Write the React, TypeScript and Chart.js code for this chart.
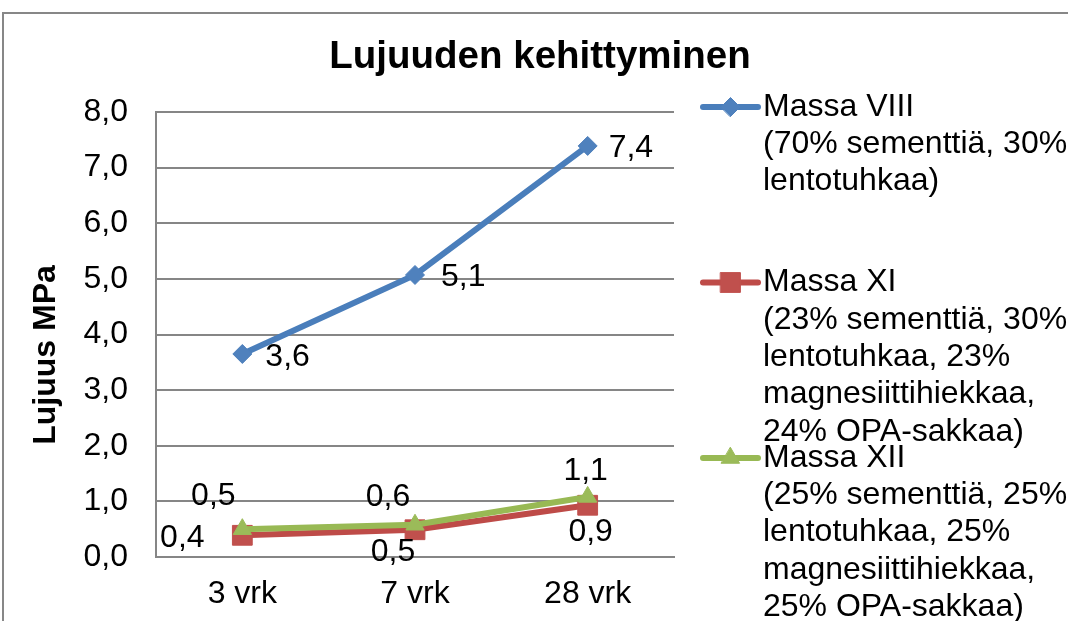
import React, { useEffect, useRef } from 'react';
import { Chart, registerables } from 'chart.js';
import { drawPoint } from 'chart.js/helpers';

Chart.register(...registerables);

// ---- data ----
const chartTitle = 'Lujuuden kehittyminen';
const yAxisTitle = 'Lujuus MPa';
const categories = ['3 vrk', '7 vrk', '28 vrk'];
const massaVIII = [3.65, 5.07, 7.39];
const massaXI = [0.39, 0.49, 0.93];
const massaXII = [0.5, 0.58, 1.08];
const seriesNames = ['Massa VIII', 'Massa XI', 'Massa XII'];
const legendTexts = [
  ['Massa VIII', '(70% sementtiä, 30%', 'lentotuhkaa)'],
  ['Massa XI', '(23% sementtiä, 30%', 'lentotuhkaa, 23%', 'magnesiittihiekkaa,', '24% OPA-sakkaa)'],
  ['Massa XII', '(25% sementtiä, 25%', 'lentotuhkaa, 25%', 'magnesiittihiekkaa,', '25% OPA-sakkaa)'],
];
const yMin = 0;
const yMax = 8;
const yStep = 1;

// ---- styles ----
const FONT = '"Liberation Sans", Arial, sans-serif';
const lineColors = ['#4A7EBB', '#BE4B48', '#98B954'];
const markerColors = ['#4F81BD', '#C0504D', '#9BBB59'];
const markerStyles = ['rectRot', 'rect', 'triangle'];
const markerRadius = [9.5, 14, 10.5];
const gridColor = '#868686';

// label placement relative to each point (style only)
const labelPlacement = [
  [
    { align: 'left', dx: 23, dy: 3 },
    { align: 'left', dx: 26, dy: 2 },
    { align: 'left', dx: 21, dy: 2 },
  ],
  [
    { align: 'center', dx: -60, dy: 3 },
    { align: 'center', dx: -22, dy: 22 },
    { align: 'center', dx: 3, dy: 27 },
  ],
  [
    { align: 'center', dx: -29, dy: -33 },
    { align: 'center', dx: -27, dy: -28 },
    { align: 'center', dx: -2, dy: -26 },
  ],
];

const fmt = (v: number) => v.toFixed(1).replace('.', ',');

const chromePlugin = {
  id: 'chrome',
  beforeDraw(chart: any) {
    const ctx = chart.ctx;
    ctx.save();
    ctx.fillStyle = '#ffffff';
    ctx.fillRect(0, 0, chart.width, chart.height);
    ctx.strokeStyle = '#878787';
    ctx.lineWidth = 2;
    ctx.beginPath();
    ctx.moveTo(3, chart.height + 5);
    ctx.lineTo(3, 13);
    ctx.lineTo(chart.width + 5, 13);
    ctx.stroke();
    ctx.restore();
  },
  afterDatasetsDraw(chart: any) {
    const ctx = chart.ctx;
    ctx.save();
    ctx.fillStyle = '#000';
    ctx.font = `32px ${FONT}`;
    ctx.textBaseline = 'middle';
    chart.data.datasets.forEach((ds: any, i: number) => {
      const meta = chart.getDatasetMeta(i);
      meta.data.forEach((pt: any, j: number) => {
        const p = labelPlacement[i][j];
        ctx.textAlign = p.align;
        ctx.fillText(fmt(ds.data[j]), pt.x + p.dx, pt.y + p.dy);
      });
    });
    ctx.restore();
  },
  afterDraw(chart: any) {
    const ctx = chart.ctx;
    ctx.save();
    // title
    ctx.fillStyle = '#000';
    ctx.font = `bold 38.5px ${FONT}`;
    ctx.textAlign = 'center';
    ctx.textBaseline = 'alphabetic';
    ctx.fillText(chartTitle, 540, 68);
    // y axis title
    ctx.save();
    ctx.translate(46, 355);
    ctx.rotate(-Math.PI / 2);
    ctx.font = `bold 32px ${FONT}`;
    ctx.textBaseline = 'middle';
    ctx.textAlign = 'center';
    ctx.fillText(yAxisTitle, 0, 0);
    ctx.restore();
    // legend
    legendTexts.forEach((lines, i) => {
      const y0 = 107 + i * 175.5;
      ctx.strokeStyle = lineColors[i];
      ctx.lineWidth = 6;
      ctx.lineCap = 'round';
      ctx.beginPath();
      ctx.moveTo(703, y0);
      ctx.lineTo(758, y0);
      ctx.stroke();
      ctx.fillStyle = markerColors[i];
      ctx.strokeStyle = markerColors[i];
      ctx.lineWidth = 1;
      drawPoint(ctx, { pointStyle: markerStyles[i], radius: markerRadius[i], rotation: 0, borderWidth: 1 } as any, 730.5, y0);
      ctx.fillStyle = '#000';
      ctx.font = `32px ${FONT}`;
      ctx.textAlign = 'left';
      ctx.textBaseline = 'middle';
      lines.forEach((t, k) => {
        ctx.fillText(t, 763, y0 + k * 37.3);
      });
    });
    ctx.restore();
  },
};

export default function App() {
  const ref = useRef<HTMLCanvasElement | null>(null);
  useEffect(() => {
    if (!ref.current) return;
    const seriesData = [massaVIII, massaXI, massaXII];
    const chart = new Chart(ref.current, {
      type: 'line',
      data: {
        labels: categories,
        datasets: seriesData.map((d, i) => ({
          label: seriesNames[i],
          data: d,
          borderColor: lineColors[i],
          borderWidth: 6,
          backgroundColor: markerColors[i],
          pointBackgroundColor: markerColors[i],
          pointBorderColor: markerColors[i],
          pointBorderWidth: 1,
          pointStyle: markerStyles[i] as any,
          pointRadius: markerRadius[i],
          tension: 0,
          order: [2, 1, 0][i],
        })),
      },
      options: {
        responsive: false,
        animation: false,
        events: [],
        layout: { padding: { left: 0, top: 112, right: 394, bottom: 0 } },
        plugins: {
          legend: { display: false },
          title: { display: false },
          tooltip: { enabled: false },
        },
        scales: {
          x: {
            type: 'category',
            offset: true,
            grid: { display: false, drawTicks: false },
            border: { display: true, color: gridColor, width: 2 },
            ticks: { color: '#000', font: { family: FONT, size: 32 }, padding: 18 },
            afterFit: (s: any) => { s.height = 64; },
          },
          y: {
            min: yMin,
            max: yMax,
            grid: { color: gridColor, lineWidth: 2, drawTicks: false },
            border: { display: true, color: gridColor, width: 2 },
            ticks: {
              stepSize: yStep,
              color: '#000',
              font: { family: FONT, size: 32 },
              padding: 28,
              callback: (v: any) => fmt(Number(v)),
            },
            afterFit: (s: any) => { s.width = 156; },
          },
        },
      },
      plugins: [chromePlugin],
    });
    return () => chart.destroy();
  }, []);
  return (
    <canvas
      ref={ref}
      width={1068}
      height={621}
      style={{ position: 'fixed', left: 0, top: 0, width: 1068, height: 621 }}
    />
  );
}
